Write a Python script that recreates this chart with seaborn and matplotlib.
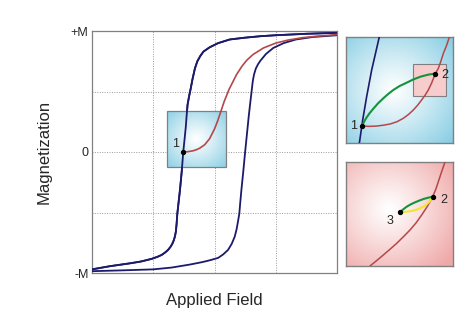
import numpy as np
import seaborn as sns
import matplotlib
matplotlib.use("Agg")
import matplotlib.pyplot as plt
from matplotlib.patches import Rectangle

# hysteresis loop, descending branch
desc_x = [-2.0, -1.71, -1.38, -1.2, -1.025, -0.93, -0.86, -0.80, -0.76, -0.72,
          -0.69, -0.665, -0.645, -0.63, -0.618, -0.607, -0.585, -0.563, -0.535,
          -0.51, -0.49, -0.47, -0.455, -0.44, -0.415, -0.39, -0.36, -0.32, -0.28,
          -0.23, -0.18, -0.08, 0.06, 0.25, 0.5, 0.75, 1.0, 1.5, 2.0]
desc_m = [-0.97, -0.944, -0.92, -0.905, -0.883, -0.866, -0.85, -0.828, -0.81, -0.785,
          -0.76, -0.73, -0.696, -0.655, -0.59, -0.51, -0.41, -0.31, -0.16,
          0.0, 0.1, 0.2, 0.3, 0.39, 0.46, 0.52, 0.6, 0.69, 0.75,
          0.795, 0.83, 0.865, 0.9, 0.93, 0.945, 0.957, 0.965, 0.977, 0.985]
# ascending branch
asc_x = [-2.0, -1.5, -1.0, -0.7, -0.4, -0.2, -0.07, 0.06, 0.14, 0.22, 0.28, 0.33,
         0.36, 0.385, 0.405, 0.42, 0.44, 0.47, 0.50, 0.52, 0.54, 0.56, 0.58, 0.61,
         0.625, 0.645, 0.675, 0.71, 0.75, 0.84, 0.96, 1.13, 1.33, 1.6, 2.0]
asc_m = [-0.985, -0.978, -0.97, -0.955, -0.93, -0.91, -0.894, -0.875, -0.847, -0.81,
         -0.76, -0.70, -0.64, -0.57, -0.51, -0.42, -0.31, -0.16, 0.0, 0.1, 0.2,
         0.3, 0.39, 0.52, 0.585, 0.64, 0.69, 0.725, 0.755, 0.81, 0.86, 0.90, 0.93,
         0.95, 0.965]
# red curve starting at point 1
red_x = [-0.51, -0.43, -0.35, -0.29, -0.24, -0.16, -0.08, 0.0, 0.05, 0.10, 0.16,
         0.24, 0.30, 0.36, 0.45, 0.53, 0.63, 0.8, 1.0, 1.2, 1.44, 1.7, 2.0]
red_m = [0.0, 0.003, 0.01, 0.02, 0.032, 0.06, 0.11, 0.19, 0.255, 0.33, 0.42,
         0.52, 0.58, 0.64, 0.71, 0.76, 0.806, 0.86, 0.90, 0.925, 0.945, 0.958, 0.97]
point1 = (-0.51, 0.0)
box_x = (-0.77, 0.19)
box_y = (-0.127, 0.335)

y_ticks = [-1, -0.5, 0, 0.5, 1]
y_labels = ['-M', '', '0', '', '+M']
x_ticks = [-2, -1, 0, 1, 2]

# top inset (zoom on point 1)
t_blue_x = [0.125, 0.156, 0.193, 0.240, 0.311]
t_blue_y = [0.0, 0.217, 0.437, 0.689, 1.0]
t_red_x = [0.150, 0.22, 0.287, 0.35, 0.411, 0.475, 0.536, 0.585, 0.629, 0.670,
           0.707, 0.740, 0.769, 0.80, 0.835, 0.863, 0.888, 0.910, 0.940, 0.966]
t_red_y = [0.160, 0.157, 0.160, 0.168, 0.179, 0.20, 0.233, 0.27, 0.311, 0.357,
           0.406, 0.452, 0.50, 0.565, 0.655, 0.704, 0.775, 0.846, 0.92, 1.0]
t_green_x = [0.150, 0.170, 0.193, 0.222, 0.255, 0.30, 0.349, 0.395, 0.442, 0.50,
             0.567, 0.63, 0.70, 0.77, 0.835]
t_green_y = [0.160, 0.203, 0.242, 0.283, 0.323, 0.375, 0.422, 0.463, 0.50, 0.537,
             0.569, 0.60, 0.627, 0.645, 0.655]
t_pts = [(0.150, 0.160), (0.835, 0.655)]
t_box = (0.63, 0.44, 0.30, 0.31)

# bottom inset (zoom on point 2)
b_red_x = [0.224, 0.29, 0.349, 0.41, 0.474, 0.535, 0.598, 0.655, 0.707, 0.76,
           0.810, 0.840, 0.863, 0.894, 0.925]
b_red_y = [0.0, 0.055, 0.106, 0.16, 0.218, 0.28, 0.346, 0.415, 0.49, 0.573,
           0.666, 0.74, 0.811, 0.907, 1.0]
b_green_x = [0.505, 0.535, 0.567, 0.605, 0.645, 0.685, 0.723, 0.765, 0.81]
b_green_y = [0.516, 0.545, 0.570, 0.593, 0.612, 0.629, 0.644, 0.656, 0.666]
b_yellow_x = [0.505, 0.56, 0.614, 0.655, 0.692, 0.725, 0.754, 0.784, 0.81]
b_yellow_y = [0.516, 0.521, 0.529, 0.540, 0.555, 0.572, 0.593, 0.625, 0.666]
b_pts = [(0.505, 0.516), (0.81, 0.666)]

navy = '#1c1a6b'
red = '#b5474a'
green = '#12943a'
yellow = '#f2e62a'
edge = '#808080'


def radial(edge_rgb, cx=0.5, cy=0.5, n=200):
    yy, xx = np.mgrid[0:1:n * 1j, 0:1:n * 1j]
    r = np.clip(np.hypot(xx - cx, yy - cy) / 0.75, 0, 1) ** 1.1
    img = np.ones((n, n, 3)) * (1 - r[..., None]) + np.array(edge_rgb) * r[..., None]
    return img


cyan_rgb = (0.52, 0.80, 0.89)
pink_rgb = (0.94, 0.66, 0.66)


def line(a, xs, ys, color, lw, z=3):
    sns.lineplot(x=xs, y=ys, ax=a, color=color, lw=lw, sort=False, estimator=None,
                 zorder=z, solid_capstyle='round', solid_joinstyle='round')


sns.set_style("white")
plt.rcParams['font.family'] = ['Liberation Sans', 'DejaVu Sans']
fig = plt.figure(figsize=(4.63, 3.16), dpi=100)

ax = fig.add_axes([92 / 463, 43 / 316, 245 / 463, 242 / 316])
ax.set_xlim(-2, 2)
ax.set_ylim(-1, 1)
ax.set_xticks(x_ticks)
ax.set_xticklabels([])
ax.set_yticks(y_ticks)
ax.set_yticklabels(y_labels, fontsize=9)
ax.tick_params(length=0, pad=2.5)
ax.grid(True, linestyle=(0, (1, 1.5)), color='#999999', linewidth=0.7)
for s in ax.spines.values():
    s.set_color(edge)
    s.set_linewidth(0.9)

line(ax, desc_x, desc_m, navy, 1.3)
line(ax, asc_x, asc_m, navy, 1.3)

ax.imshow(radial(cyan_rgb, 0.5, 0.5), extent=[box_x[0], box_x[1], box_y[0], box_y[1]],
          aspect='auto', origin='lower', zorder=3.2)
ax.add_patch(Rectangle((box_x[0], box_y[0]), box_x[1] - box_x[0], box_y[1] - box_y[0],
                       fill=False, ec=edge, lw=0.9, zorder=3.5))
line(ax, desc_x, desc_m, navy, 1.3, z=4)
line(ax, red_x, red_m, red, 1.2, z=4)
ax.scatter([point1[0]], [point1[1]], s=8, color='black', zorder=5)
ax.text(point1[0] - 0.07, point1[1] + 0.02, '1', fontsize=9, ha='right', va='bottom', zorder=5)

ax.set_xlabel('Applied Field', fontsize=12, labelpad=12)
ax.set_ylabel('Magnetization', fontsize=12, labelpad=14)

# top inset
ax1 = fig.add_axes([346 / 463, (316 - 143) / 316, 107 / 463, 106 / 316])
ax1.imshow(radial(cyan_rgb, 0.45, 0.5), extent=[0, 1, 0, 1], aspect='auto', origin='lower')
ax1.set_xlim(0, 1)
ax1.set_ylim(0, 1)
ax1.add_patch(Rectangle(t_box[:2], t_box[2], t_box[3], fc='#f7cccc', ec=edge, lw=0.8, zorder=2))
line(ax1, t_blue_x, t_blue_y, navy, 1.2)
line(ax1, t_red_x, t_red_y, red, 1.1)
line(ax1, t_green_x, t_green_y, green, 1.5)
ax1.scatter([p[0] for p in t_pts], [p[1] for p in t_pts], s=8, color='black', zorder=4)
ax1.text(0.07, 0.16, '1', fontsize=9, ha='center', va='center')
ax1.text(0.92, 0.64, '2', fontsize=9, ha='center', va='center')

# bottom inset
ax2 = fig.add_axes([346 / 463, (316 - 266) / 316, 107 / 463, 104 / 316])
ax2.imshow(radial(pink_rgb, 0.4, 0.55), extent=[0, 1, 0, 1], aspect='auto', origin='lower')
ax2.set_xlim(0, 1)
ax2.set_ylim(0, 1)
line(ax2, b_red_x, b_red_y, red, 1.1)
line(ax2, b_green_x, b_green_y, green, 1.5)
line(ax2, b_yellow_x, b_yellow_y, yellow, 1.5)
ax2.scatter([p[0] for p in b_pts], [p[1] for p in b_pts], s=8, color='black', zorder=4)
ax2.text(0.91, 0.63, '2', fontsize=9, ha='center', va='center')
ax2.text(0.41, 0.43, '3', fontsize=9, ha='center', va='center')

for a in (ax1, ax2):
    a.set_xticks([])
    a.set_yticks([])
    for s in a.spines.values():
        s.set_color(edge)
        s.set_linewidth(1.0)

fig.savefig('out.png', dpi=100)
